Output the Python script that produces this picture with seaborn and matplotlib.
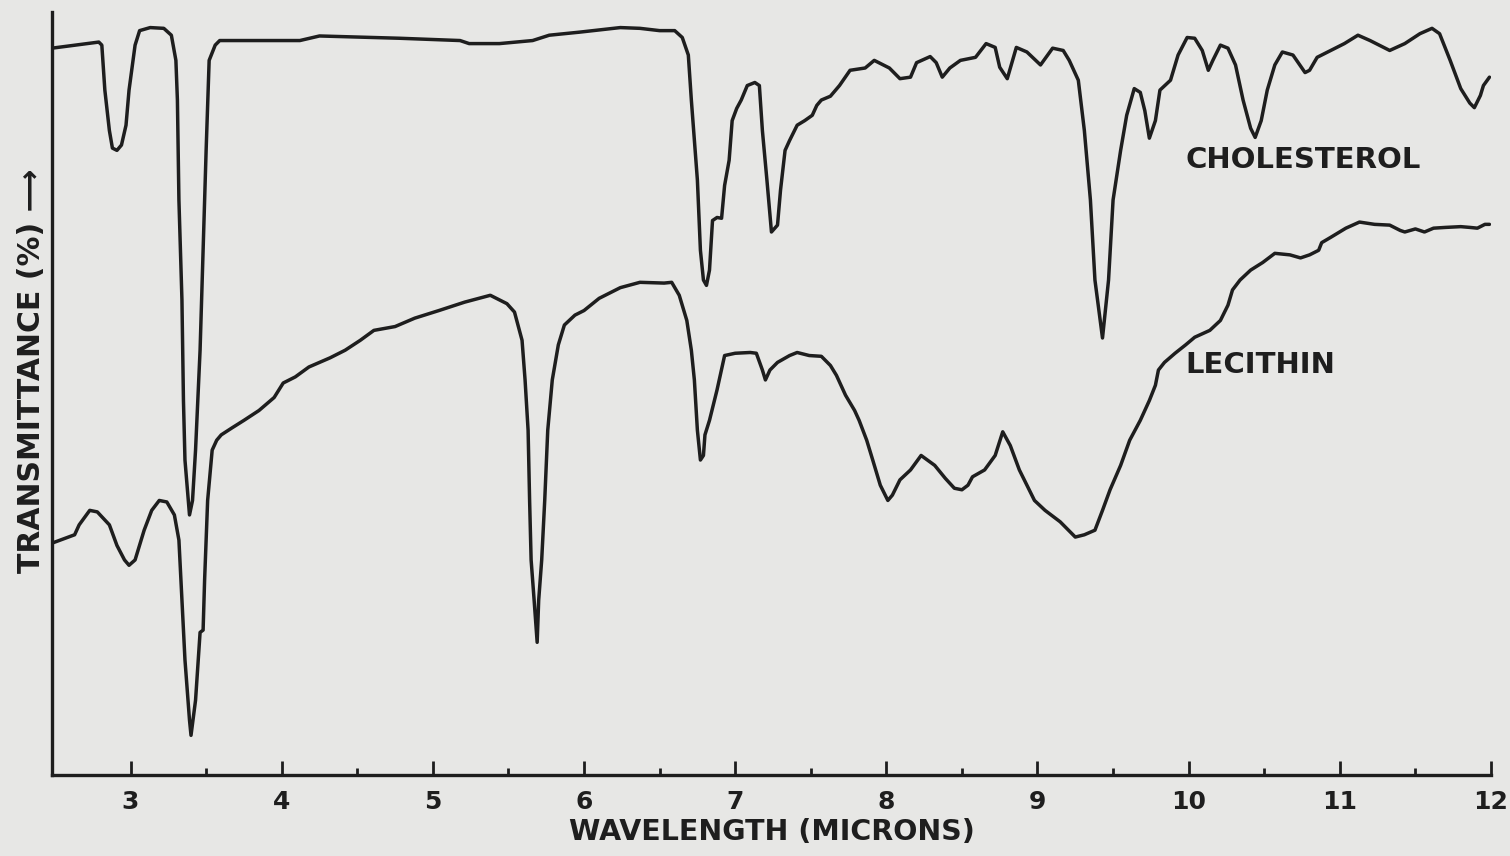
#!/usr/bin/env python3

"""
Infrared spectra of cholesterol and lecithin (transmittance vs wavelength).
"""

import matplotlib

matplotlib.use("Agg")

import matplotlib.pyplot as plt
import pandas as pd
import seaborn as sns

# wavelength in microns, transmittance in arbitrary percent scale (0 = baseline)
chol_wavelength = [
    2.48, 2.79, 2.81, 2.83, 2.86, 2.88, 2.91, 2.94, 2.97, 2.99, 3.03, 3.06, 3.13,
    3.22, 3.27, 3.30, 3.31, 3.32, 3.34, 3.35, 3.36, 3.39, 3.41, 3.43, 3.46, 3.48,
    3.50, 3.52, 3.56, 3.59, 4.12, 4.25, 4.78, 5.18, 5.24, 5.44, 5.66, 5.77, 5.97,
    6.24, 6.37, 6.50, 6.60, 6.65, 6.69, 6.71, 6.75, 6.77, 6.79, 6.81, 6.83, 6.85,
    6.88, 6.91, 6.93, 6.96, 6.98, 7.01, 7.04, 7.08, 7.13, 7.16, 7.18, 7.21, 7.23,
    7.24, 7.28, 7.30, 7.33, 7.36, 7.41, 7.46, 7.51, 7.54, 7.57, 7.63, 7.69, 7.76,
    7.86, 7.92, 8.02, 8.09, 8.16, 8.20, 8.29, 8.33, 8.37, 8.42, 8.49, 8.59, 8.66,
    8.72, 8.75, 8.80, 8.86, 8.93, 9.02, 9.10, 9.17, 9.21, 9.27, 9.31, 9.35, 9.38,
    9.43, 9.47, 9.50, 9.55, 9.59, 9.64, 9.68, 9.71, 9.74, 9.78, 9.81, 9.88, 9.93,
    9.99, 10.04, 10.09, 10.13, 10.16, 10.21, 10.26, 10.31, 10.36, 10.41, 10.44,
    10.48, 10.52, 10.57, 10.62, 10.69, 10.77, 10.80, 10.85, 10.97, 11.03, 11.12,
    11.20, 11.33, 11.43, 11.53, 11.61, 11.66, 11.73, 11.80, 11.86, 11.89, 11.93,
    11.95, 11.99,
]
chol_transmittance = [
    95.3, 96.1, 95.7, 89.8, 84.5, 82.2, 81.9, 82.6, 85.2, 89.8, 95.7, 97.6, 98.0,
    97.9, 97.0, 93.7, 88.5, 75.4, 62.3, 49.1, 41.3, 34.1, 36.0, 42.6, 55.7, 68.8,
    81.9, 93.7, 95.7, 96.3, 96.3, 96.9, 96.6, 96.3, 95.9, 95.9, 96.3, 97.0, 97.4,
    98.0, 97.9, 97.6, 97.6, 96.7, 94.4, 88.5, 78.0, 68.8, 64.9, 64.2, 66.2, 72.7,
    73.1, 73.0, 77.3, 80.6, 85.8, 87.4, 88.5, 90.4, 90.8, 90.4, 84.5, 78.0, 73.4,
    71.2, 72.1, 76.7, 81.9, 83.2, 85.2, 85.8, 86.5, 87.8, 88.5, 89.0, 90.4, 92.4,
    92.7, 93.7, 92.7, 91.3, 91.5, 93.4, 94.2, 93.4, 91.5, 92.7, 93.7, 94.1, 95.9,
    95.4, 92.8, 91.3, 95.4, 94.8, 93.1, 95.3, 95.0, 93.7, 91.1, 84.5, 75.4, 64.9,
    57.3, 64.9, 75.4, 81.9, 86.5, 90.0, 89.5, 87.1, 83.5, 85.8, 89.8, 91.1, 94.4,
    96.7, 96.6, 95.0, 92.4, 93.7, 95.7, 95.3, 93.1, 88.5, 84.8, 83.6,
    85.8, 89.8, 93.1, 94.8, 94.4, 92.1, 92.4, 94.1, 95.3, 95.9, 97.0,
    96.3, 95.0, 95.9, 97.2, 97.9, 97.2, 93.7, 90.0, 88.1, 87.5, 89.1,
    90.4, 91.5,
]

lec_wavelength = [
    2.48, 2.63, 2.66, 2.73, 2.78, 2.86, 2.91, 2.96, 2.99, 3.03, 3.09, 3.14, 3.19,
    3.24, 3.29, 3.32, 3.34, 3.36, 3.39, 3.40, 3.43, 3.46, 3.48, 3.49, 3.51, 3.54,
    3.57, 3.60, 3.67, 3.75, 3.85, 3.95, 4.01, 4.09, 4.18, 4.32, 4.42, 4.52, 4.61,
    4.75, 4.88, 5.04, 5.21, 5.38, 5.49, 5.54, 5.59, 5.61, 5.63, 5.64, 5.65, 5.67,
    5.69, 5.70, 5.72, 5.74, 5.76, 5.79, 5.83, 5.87, 5.94, 6.00, 6.10, 6.24, 6.37,
    6.53, 6.58, 6.63, 6.68, 6.71, 6.73, 6.75, 6.77, 6.79, 6.80, 6.83, 6.88, 6.93,
    7.00, 7.10, 7.14, 7.18, 7.20, 7.23, 7.28, 7.36, 7.41, 7.49, 7.57, 7.63, 7.67,
    7.73, 7.79, 7.82, 7.87, 7.91, 7.96, 8.01, 8.04, 8.09, 8.16, 8.23, 8.32, 8.39,
    8.45, 8.50, 8.54, 8.57, 8.65, 8.72, 8.77, 8.82, 8.88, 8.98, 9.05, 9.15, 9.25,
    9.31, 9.38, 9.43, 9.48, 9.55, 9.61, 9.68, 9.74, 9.78, 9.80, 9.84, 9.91, 9.98,
    10.04, 10.14, 10.21, 10.26, 10.29, 10.34, 10.41, 10.49, 10.57, 10.67, 10.74,
    10.80, 10.86, 10.88, 10.94, 11.04, 11.13, 11.23, 11.33, 11.40, 11.43, 11.50,
    11.56, 11.62, 11.70, 11.80, 11.86, 11.91, 11.96, 11.99,
]
lec_transmittance = [
    30.4, 31.5, 32.8, 34.7, 34.5, 32.8, 30.1, 28.2, 27.5, 28.2, 32.1, 34.7, 36.0,
    35.8, 34.1, 30.8, 22.9, 15.1, 7.2, 5.2, 9.8, 18.7, 19.0, 25.6, 36.0, 42.6,
    43.9, 44.6, 45.5, 46.5, 47.8, 49.5, 51.4, 52.2, 53.5, 54.7, 55.7, 57.0, 58.3,
    58.8, 59.9, 60.9, 62.0, 62.9, 61.8, 60.7, 57.0, 51.8, 45.2, 36.0, 28.2, 22.9,
    17.4, 22.9, 28.2, 36.0, 45.2, 51.8, 56.4, 59.0, 60.3, 60.9, 62.5, 63.9, 64.6,
    64.5, 64.6, 62.9, 59.6, 55.7, 51.8, 45.2, 41.3, 41.9, 44.6, 46.5, 50.5, 55.0,
    55.3, 55.4, 55.3, 53.1, 51.8, 53.1, 54.1, 55.0, 55.4, 55.0, 54.9, 53.7, 52.4,
    49.8, 47.8, 46.5, 43.9, 41.3, 38.0, 36.0, 36.7, 38.7, 40.0, 41.9, 40.6, 38.9,
    37.6, 37.4, 38.0, 39.1, 40.0, 41.9, 45.0, 43.2, 40.0, 36.0, 34.7, 33.2, 31.2,
    31.5, 32.1, 34.7, 37.4, 40.6, 43.9, 46.5, 49.1, 51.1, 53.1, 54.1, 55.3, 56.4,
    57.4, 58.3, 59.6, 61.6, 63.6, 64.9, 66.2, 67.2, 68.4, 68.2, 67.8,
    68.2, 68.8, 69.8, 70.5, 71.7, 72.5, 72.2, 72.1, 71.4, 71.2, 71.6,
    71.2, 71.7, 71.8, 71.9, 71.8, 71.7, 72.2, 72.2,
]

major_ticks = [3, 4, 5, 6, 7, 8, 9, 10, 11, 12]
minor_ticks = [3.5, 4.5, 5.5, 6.5, 7.5, 8.5, 9.5, 10.5, 11.5]


def plot_spectra():
    sns.set_theme(style="ticks")
    plt.rcParams["font.family"] = ["DejaVu Sans"]

    paper = "#e7e7e5"
    ink = "#1e1e1e"

    df = pd.concat(
        [
            pd.DataFrame({"wavelength": chol_wavelength, "transmittance": chol_transmittance, "sample": "cholesterol"}),
            pd.DataFrame({"wavelength": lec_wavelength, "transmittance": lec_transmittance, "sample": "lecithin"}),
        ]
    )

    fig = plt.figure(figsize=(15.10, 8.56), dpi=100, facecolor=paper)
    ax = fig.add_axes([0.0344, 0.0946, 0.953, 0.891])
    ax.set_facecolor(paper)

    sns.lineplot(
        data=df,
        x="wavelength",
        y="transmittance",
        units="sample",
        estimator=None,
        sort=False,
        color=ink,
        linewidth=2.5,
        ax=ax,
    )

    ax.set_xlim(2.48, 12.0)
    ax.set_ylim(0, 100)

    sns.despine(ax=ax)
    for side in ("left", "bottom"):
        ax.spines[side].set_linewidth(2.4)
        ax.spines[side].set_color(ink)

    ax.set_xticks(major_ticks)
    ax.set_xticks(minor_ticks, minor=True)
    ax.set_xticklabels([str(t) for t in major_ticks])
    ax.set_yticks([])
    ax.tick_params(axis="x", which="major", direction="in", length=10, width=2.0,
                   color=ink, pad=11, labelsize=18, labelcolor=ink)
    ax.tick_params(axis="x", which="minor", direction="in", length=5, width=2.0, color=ink)
    for lbl in ax.get_xticklabels():
        lbl.set_fontweight("bold")

    ax.set_xlabel("WAVELENGTH (MICRONS)", fontsize=20.5, fontweight="bold", color=ink, labelpad=3)
    ax.set_ylabel("TRANSMITTANCE (%) \u27f6", fontsize=21.5, fontweight="bold", color=ink)
    ax.yaxis.set_label_coords(-0.004, 0.53)

    ax.text(9.98, 80.6, "CHOLESTEROL", fontsize=21, fontweight="bold", color=ink, ha="left", va="center")
    ax.text(9.98, 53.7, "LECITHIN", fontsize=21, fontweight="bold", color=ink, ha="left", va="center")

    fig.savefig("out.png", dpi=100, facecolor=paper)


if __name__ == "__main__":
    plot_spectra()
